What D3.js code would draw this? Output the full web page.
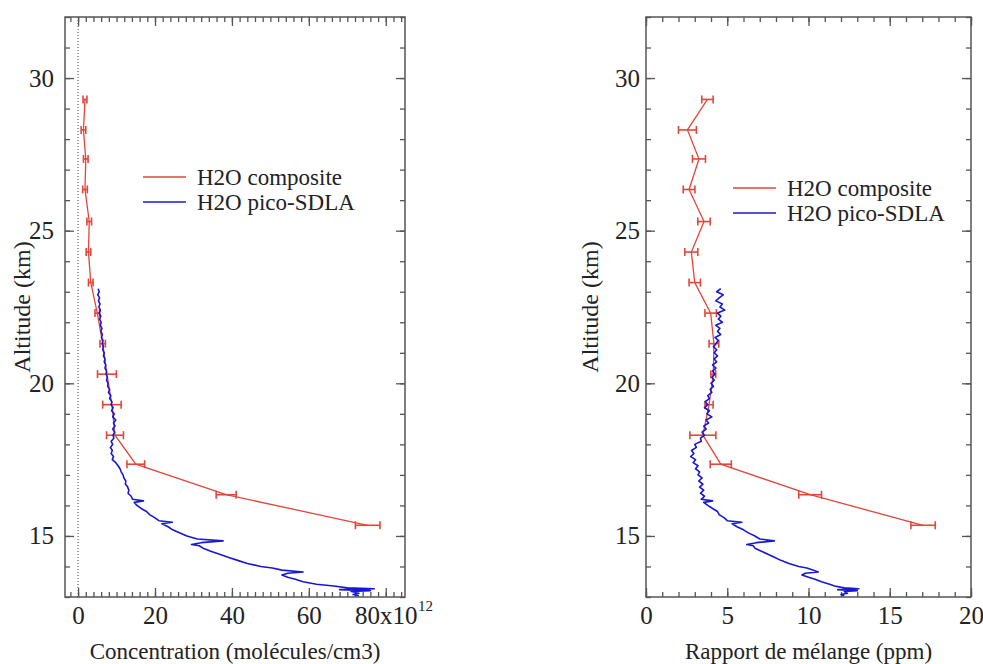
<!DOCTYPE html>
<html><head><meta charset="utf-8">
<script src="https://cdn.jsdelivr.net/npm/d3@7"></script>
<style>
body{margin:0;background:#fff}
</style>
</head><body><svg id="c" width="983" height="664"></svg>
<script>
// ---- data ----
const compAlt = [29.3,28.3,27.35,26.35,25.3,24.3,23.3,22.3,21.3,20.3,19.3,18.3,17.35,16.35,15.35];
const compConc = [1.8,1.4,2.0,1.8,2.9,2.7,3.3,5.0,6.4,7.5,8.8,9.6,15.0,38.5,75.3];
const compConcErr = [0.5,0.6,0.6,0.6,0.6,0.6,0.6,0.6,0.7,2.45,2.4,2.2,2.3,2.6,3.2];
const compMix = [3.78,2.55,3.26,2.65,3.57,2.79,3.0,3.98,4.18,4.14,3.88,3.5,4.6,10.1,17.05];
const compMixErr = [0.35,0.55,0.4,0.36,0.38,0.4,0.35,0.35,0.3,0.15,0.25,0.8,0.65,0.7,0.75];

const picoAlt = [23.1,23.0,22.9,22.8,22.7,22.6,22.5,22.4,22.3,22.2,
 22.1,22.0,21.9,21.8,21.7,21.6,21.5,21.4,21.3,21.2,
 21.1,21.0,20.9,20.8,20.7,20.6,20.5,20.4,20.3,20.2,
 20.1,20.0,19.9,19.8,19.7,19.6,19.5,19.4,19.3,19.2,
 19.1,19.0,18.9,18.8,18.7,18.6,18.5,18.4,18.3,18.2,
 18.1,18.0,17.9,17.8,17.7,17.6,17.5,17.4,17.3,17.2,
 17.1,17.0,16.9,16.8,16.7,16.6,16.5,16.4,16.3,16.2,
 16.15,16.1,16.0,15.9,15.8,15.7,15.6,15.5,
 15.45,15.4,15.3,15.2,15.1,15.0,14.9,
 14.84,14.78,14.72,14.68,14.6,14.5,14.4,14.3,14.2,14.1,14.0,
 13.95,13.88,13.82,13.78,13.72,13.65,13.58,13.5,13.42,13.36,13.3,
 13.27,13.24,13.21,13.18,13.12,13.08,13.04];
const picoConc = [5.2,5.5,5.1,5.6,5.3,5.7,5.4,5.8,5.5,5.9,
 5.6,6.0,5.8,6.2,5.9,6.3,6.1,6.5,6.3,6.6,
 6.4,6.8,6.6,7.0,6.8,7.2,7.0,7.4,7.3,7.6,
 7.4,7.8,7.7,8.2,7.9,8.5,8.2,8.8,8.6,9.1,
 8.7,9.4,9.0,9.8,9.2,9.6,9.0,9.5,9.1,9.3,
 8.6,9.0,8.4,8.9,8.6,9.2,8.9,9.8,10.4,10.9,
 11.2,11.7,11.9,12.4,12.3,12.9,13.2,13.0,13.8,14.2,
 17.0,14.6,15.3,16.4,17.8,18.6,19.9,21.0,
 24.5,21.8,23.4,24.6,26.5,28.3,31.0,
 37.7,32.0,29.5,31.5,32.5,34.5,36.8,39.0,41.5,44.0,47.5,
 50.5,53.0,58.5,54.5,53.0,54.5,56.5,58.5,62.0,66.5,70.0,
 77.0,68.0,76.0,71.0,73.0,71.5,73.0];
const picoMix = [4.6,4.35,4.75,4.5,4.3,4.7,4.55,4.85,4.4,4.6,
 4.45,4.7,4.3,4.55,4.4,4.6,4.25,4.45,4.3,4.15,
 4.35,4.2,4.4,4.2,4.35,4.1,4.3,4.1,4.25,4.05,
 4.2,4.0,4.15,3.95,4.05,3.8,3.9,3.65,3.8,3.6,
 3.9,3.75,4.05,3.7,3.85,3.55,3.7,3.45,3.6,3.35,
 3.4,3.0,3.1,2.8,2.95,2.75,3.05,2.9,3.2,3.05,
 3.3,3.2,3.45,3.25,3.5,3.3,3.55,3.35,3.6,3.4,
 4.1,3.55,3.8,4.1,4.4,4.5,4.8,5.0,
 5.9,5.3,5.6,6.0,6.3,6.7,7.0,
 7.9,6.8,6.2,6.6,6.7,7.1,7.5,7.9,8.3,8.8,9.4,
 9.9,10.3,10.6,9.8,9.6,10.0,10.4,10.8,11.3,11.6,12.2,
 13.1,11.8,13.0,12.2,12.4,12.0,12.2];

const altTicks = [15,20,25,30];
const altMinor = d3.range(13,33,1);
const concTicks = [0,20,40,60,80];
const concMinor = d3.range(-2,86,2);
const mixTicks = [0,5,10,15,20];
const mixMinor = d3.range(0,21,1);
const legendLabels = ["H2O composite","H2O pico-SDLA"];
const xTitles = ["Concentration (molécules/cm3)","Rapport de mélange (ppm)"];
const yTitle = "Altitude (km)";

// ---- drawing ----
const FONT = "'Liberation Serif', 'Times New Roman', Times, 'DejaVu Serif', serif";
const RED = "#e2463a", BLUE = "#1818d4", AX = "#555";
const svg = d3.select('#c').attr('font-family', FONT);
svg.append('rect').attr('width',983).attr('height',664).attr('fill','#fff');
const yTop = 17, yBot = 597;

function styleAxis(sel, fs){
  sel.attr('font-family',FONT).attr('font-size',fs);
  sel.select('.domain').remove();
  sel.selectAll('.tick line').attr('stroke',AX).attr('stroke-width',1.3);
  sel.selectAll('.tick text').attr('fill','#222').attr('font-family',FONT);
}

function panel(o){
  const x = d3.scaleLinear().domain(o.xDomain).range([o.x0,o.x1]);
  const y = d3.scaleLinear().domain([13,32]).range([yBot,yTop]);
  const g = svg.append('g');
  if (o.zeroLine) {
    g.append('line').attr('x1',x(0)).attr('x2',x(0)).attr('y1',yTop).attr('y2',yBot)
     .attr('stroke','#444').attr('stroke-width',1).attr('stroke-dasharray','1,2');
  }
  g.append('g').attr('transform',`translate(0,${yBot})`)
    .call(d3.axisBottom(x).tickValues(o.xMinor).tickSize(-5).tickFormat(''))
    .call(s=>styleAxis(s,25));
  const bx = g.append('g').attr('transform',`translate(0,${yBot})`)
    .call(d3.axisBottom(x).tickValues(o.xMajor).tickSize(-9).tickPadding(9).tickFormat(o.xFmt))
    .call(s=>styleAxis(s,25));
  g.append('g').attr('transform',`translate(0,${yTop})`)
    .call(d3.axisTop(x).tickValues(o.xMinor).tickSize(-5).tickFormat(''))
    .call(s=>styleAxis(s,25));
  g.append('g').attr('transform',`translate(0,${yTop})`)
    .call(d3.axisTop(x).tickValues(o.xMajor).tickSize(-9).tickFormat(''))
    .call(s=>styleAxis(s,25));
  g.append('g').attr('transform',`translate(${o.x0},0)`)
    .call(d3.axisLeft(y).tickValues(altMinor).tickSize(-5).tickFormat(''))
    .call(s=>styleAxis(s,25));
  g.append('g').attr('transform',`translate(${o.x0},0)`)
    .call(d3.axisLeft(y).tickValues(altTicks).tickSize(-9).tickPadding(o.yPad))
    .call(s=>styleAxis(s,25));
  g.append('g').attr('transform',`translate(${o.x1},0)`)
    .call(d3.axisRight(y).tickValues(altMinor).tickSize(-5).tickFormat(''))
    .call(s=>styleAxis(s,25));
  g.append('g').attr('transform',`translate(${o.x1},0)`)
    .call(d3.axisRight(y).tickValues(altTicks).tickSize(-9).tickFormat(''))
    .call(s=>styleAxis(s,25));
  g.append('rect').attr('x',o.x0).attr('y',yTop).attr('width',o.x1-o.x0).attr('height',yBot-yTop)
    .attr('fill','none').attr('stroke',AX).attr('stroke-width',1.5);

  if (o.sup) {
    const t = bx.selectAll('.tick text').filter(d=>d===80);
    const bb = t.node().getBBox();
    g.append('text').attr('x',x(80)+bb.x+bb.width+1).attr('y',yBot+bb.y+9)
      .attr('font-size',15).attr('fill','#222').text(o.sup);
  }

  const comp = compAlt.map((a,i)=>({a, v:o.comp[i], e:o.compErr[i]}));
  g.append('path').datum(comp)
    .attr('d', d3.line().x(d=>x(d.v)).y(d=>y(d.a)))
    .attr('fill','none').attr('stroke',RED).attr('stroke-width',1.3);
  const eb = g.append('g').attr('stroke',RED).attr('stroke-width',1.6);
  comp.forEach(d=>{
    const yy = y(d.a);
    eb.append('line').attr('x1',x(d.v-d.e)).attr('x2',x(d.v+d.e)).attr('y1',yy).attr('y2',yy);
    eb.append('line').attr('x1',x(d.v-d.e)).attr('x2',x(d.v-d.e)).attr('y1',yy-4).attr('y2',yy+4);
    eb.append('line').attr('x1',x(d.v+d.e)).attr('x2',x(d.v+d.e)).attr('y1',yy-4).attr('y2',yy+4);
  });
  const pico = picoAlt.map((a,i)=>({a, v:o.pico[i]}));
  g.append('path').datum(pico)
    .attr('d', d3.line().x(d=>x(d.v)).y(d=>y(d.a)))
    .attr('fill','none').attr('stroke',BLUE).attr('stroke-width',1.6).attr('stroke-linejoin','round');

  [RED,BLUE].forEach((c,i)=>{
    const ly = o.legY + i*25;
    g.append('line').attr('x1',o.legX).attr('x2',o.legX+43).attr('y1',ly).attr('y2',ly)
      .attr('stroke',c).attr('stroke-width',1.3);
    g.append('text').attr('x',o.legX+54).attr('y',ly).attr('dy','0.33em')
      .attr('font-size',23).attr('fill','#222').text(legendLabels[i]);
  });

  g.append('text').attr('x',(o.x0+o.x1)/2).attr('y',659).attr('text-anchor','middle')
    .attr('font-size',23).attr('fill','#222').text(o.xTitle);
  g.append('text').attr('transform',`translate(${o.yTitleX},${(yTop+yBot)/2}) rotate(-90)`)
    .attr('text-anchor','middle').attr('font-size',24).attr('fill','#222').text(yTitle);
}

panel({x0:65,x1:405,xDomain:[-3.4,85],xMajor:concTicks,xMinor:concMinor,
  xFmt:d=>d===80?"80x10":String(d), sup:"12", zeroLine:true,
  comp:compConc, compErr:compConcErr, pico:picoConc,
  yPad:11, legX:143, legY:177, xTitle:xTitles[0], yTitleX:30});
panel({x0:646,x1:971,xDomain:[0,20],xMajor:mixTicks,xMinor:mixMinor,
  xFmt:d=>String(d), sup:null, zeroLine:false,
  comp:compMix, compErr:compMixErr, pico:picoMix,
  yPad:6, legX:733, legY:188, xTitle:xTitles[1], yTitleX:598});
</script>
</body></html>
